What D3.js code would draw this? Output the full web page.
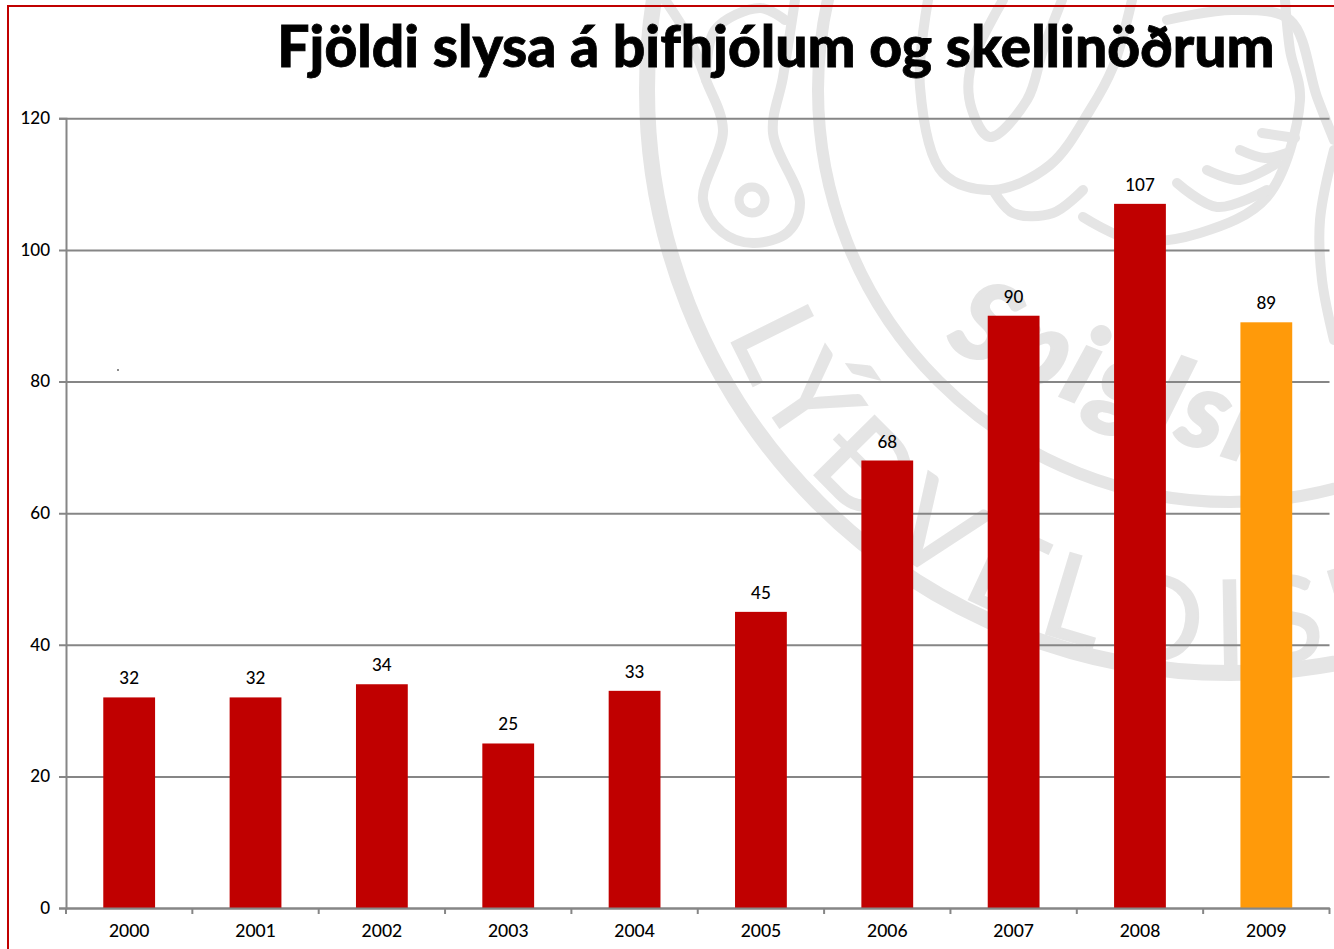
<!DOCTYPE html>
<html>
<head>
<meta charset="utf-8">
<script src="https://cdn.jsdelivr.net/npm/d3@7"></script>
<style>
  html, body { margin: 0; padding: 0; background: #fff; overflow: hidden; }
  svg { display: block; }
</style>
</head>
<body>
<svg id="chart"></svg>
<script>
const years = ["2000", "2001", "2002", "2003", "2004", "2005", "2006", "2007", "2008", "2009"];
const accidents = [32, 32, 34, 25, 33, 45, 68, 90, 107, 89];
const yTicks = [0, 20, 40, 60, 80, 100, 120];
const titleText = "Fjöldi slysa á bifhjólum og skellinöðrum";

// outline of the seal in the slide background, traced by eye
const sealStrokes = [
  [[665, 0], [690, 40], [706, 80], [723, 130], [703, 200], [722, 232], [753, 243], [788, 232], [800, 203], [773, 133], [783, 77], [795, 0]],
  [[706, 80], [715, 30], [760, 8], [785, 20]],
  [[928, 0], [920, 87], [943, 173], [993, 190], [1050, 165], [1090, 110], [1113, 67], [1132, 0]],
  [[1003, 0], [970, 70], [972, 110], [990, 137], [1027, 100], [1043, 50], [1062, 0]],
  [[993, 190], [1013, 213], [1053, 213], [1083, 190]],
  [[1083, 217], [1133, 240], [1200, 233], [1267, 197], [1300, 100], [1290, 50], [1285, 0]],
  [[1177, 183], [1217, 207], [1267, 190]],
  [[1207, 170], [1240, 180], [1277, 163]],
  [[1240, 150], [1265, 158], [1287, 153]],
  [[1262, 133], [1295, 138]],
  [[1167, 20], [1233, 10], [1290, 20], [1317, 97], [1334, 140]],
  [[1334, 150], [1320, 220], [1322, 280], [1334, 340]]
];

const width = 1334, height = 949;
const margin = { top: 118.3, right: 4.5, bottom: 41, left: 66 };
const innerW = width - margin.left - margin.right;
const innerH = height - margin.top - margin.bottom;
const font = "Lato, sans-serif";
const sealGrey = "#e5e5e5";

const svg = d3.select("#chart").attr("width", width).attr("height", height);

// faint seal behind the chart
const seal = svg.append("g").attr("fill", "none").attr("stroke", sealGrey).attr("stroke-linecap", "round");
seal.append("circle").attr("cx", 1230).attr("cy", 90).attr("r", 583).attr("stroke-width", 16);
seal.append("circle").attr("cx", 1230).attr("cy", 90).attr("r", 412).attr("stroke-width", 12);
seal.append("circle").attr("cx", 752).attr("cy", 200).attr("r", 13).attr("stroke-width", 9);

const sealLine = d3.line().curve(d3.curveCatmullRom);
sealStrokes.forEach(pts => {
  seal.append("path").attr("d", sealLine(pts)).attr("stroke-width", 10);
});

const sealDefs = svg.append("defs");
sealDefs.append("path").attr("id", "seal-arc")
  .attr("d", "M728,333 A545,545 0 0 0 1502,592");
svg.append("text")
  .attr("font-family", font).attr("font-weight", 400).attr("font-size", 118)
  .attr("fill", sealGrey).attr("stroke", sealGrey).attr("stroke-width", 2).attr("letter-spacing", 16)
  .append("textPath").attr("href", "#seal-arc")
  .text("LÝÐVELDISN");
sealDefs.append("path").attr("id", "seal-arc-2")
  .attr("d", "M945,345 Q1110,425 1334,490");
svg.append("text")
  .attr("font-family", font).attr("font-weight", 900).attr("font-style", "italic").attr("font-size", 108)
  .attr("fill", sealGrey).attr("stroke", sealGrey).attr("stroke-width", 3).attr("letter-spacing", 5)
  .append("textPath").attr("href", "#seal-arc-2")
  .text("Spiglsr");

// slide frame, open at the bottom and right
svg.append("path")
  .attr("d", `M8,${height} V6 H${width}`)
  .attr("fill", "none").attr("stroke", "#c00000").attr("stroke-width", 2);

svg.append("text")
  .attr("x", 776).attr("y", 67)
  .attr("text-anchor", "middle")
  .attr("font-family", font).attr("font-weight", 900).attr("font-size", 57)
  .style("font-variant-ligatures", "none")
  .attr("fill", "#000").attr("stroke", "#000").attr("stroke-width", 0.8)
  .text(titleText);

const plot = svg.append("g").attr("transform", `translate(${margin.left},${margin.top})`);

const x = d3.scaleBand().domain(years).range([0, innerW]).paddingInner(0.59).paddingOuter(0.295);
const y = d3.scaleLinear().domain([0, 120]).range([innerH, 0]);

// gridlines and y axis
const yAxis = plot.append("g")
  .call(d3.axisLeft(y).tickValues(yTicks).tickSize(7).tickPadding(9));
yAxis.select(".domain").attr("stroke", "#868686").attr("stroke-width", 2);
yAxis.selectAll(".tick line").attr("stroke", "#868686").attr("stroke-width", 2)
  .attr("x1", innerW)
  .attr("x2", -7);
yAxis.selectAll("text").attr("font-family", font).attr("font-weight", 500).attr("font-size", 17).attr("fill", "#000");

const rows = years.map((year, i) => ({ year, value: accidents[i] }));

plot.selectAll(".bar")
  .data(rows)
  .enter()
  .append("rect")
  .attr("class", "bar")
  .attr("x", d => x(d.year))
  .attr("y", d => y(d.value))
  .attr("width", x.bandwidth())
  .attr("height", d => innerH - y(d.value))
  .attr("fill", d => d.year === "2009" ? "#ff9a0a" : "#c00000");

plot.selectAll(".value")
  .data(rows)
  .enter()
  .append("text")
  .attr("class", "value")
  .attr("x", d => x(d.year) + x.bandwidth() / 2)
  .attr("y", d => y(d.value) - 13)
  .attr("text-anchor", "middle")
  .attr("font-family", font).attr("font-weight", 500).attr("font-size", 17).attr("fill", "#000")
  .text(d => d.value);

// x axis: ticks sit between the categories
const xAxis = plot.append("g").attr("transform", `translate(0,${innerH})`)
  .call(d3.axisBottom(x).tickSize(0).tickPadding(17));
xAxis.select(".domain").attr("stroke", "#868686").attr("stroke-width", 2);
xAxis.selectAll("text").attr("font-family", font).attr("font-weight", 500).attr("font-size", 17.5).attr("fill", "#000");
plot.append("g").selectAll("line")
  .data(d3.range(years.length + 1))
  .enter()
  .append("line")
  .attr("x1", i => i * x.step()).attr("x2", i => i * x.step())
  .attr("y1", innerH).attr("y2", innerH + 6)
  .attr("stroke", "#868686").attr("stroke-width", 2);

// stray speck on the slide
svg.append("circle").attr("cx", 118).attr("cy", 370).attr("r", 1).attr("fill", "#666");
</script>
</body>
</html>
